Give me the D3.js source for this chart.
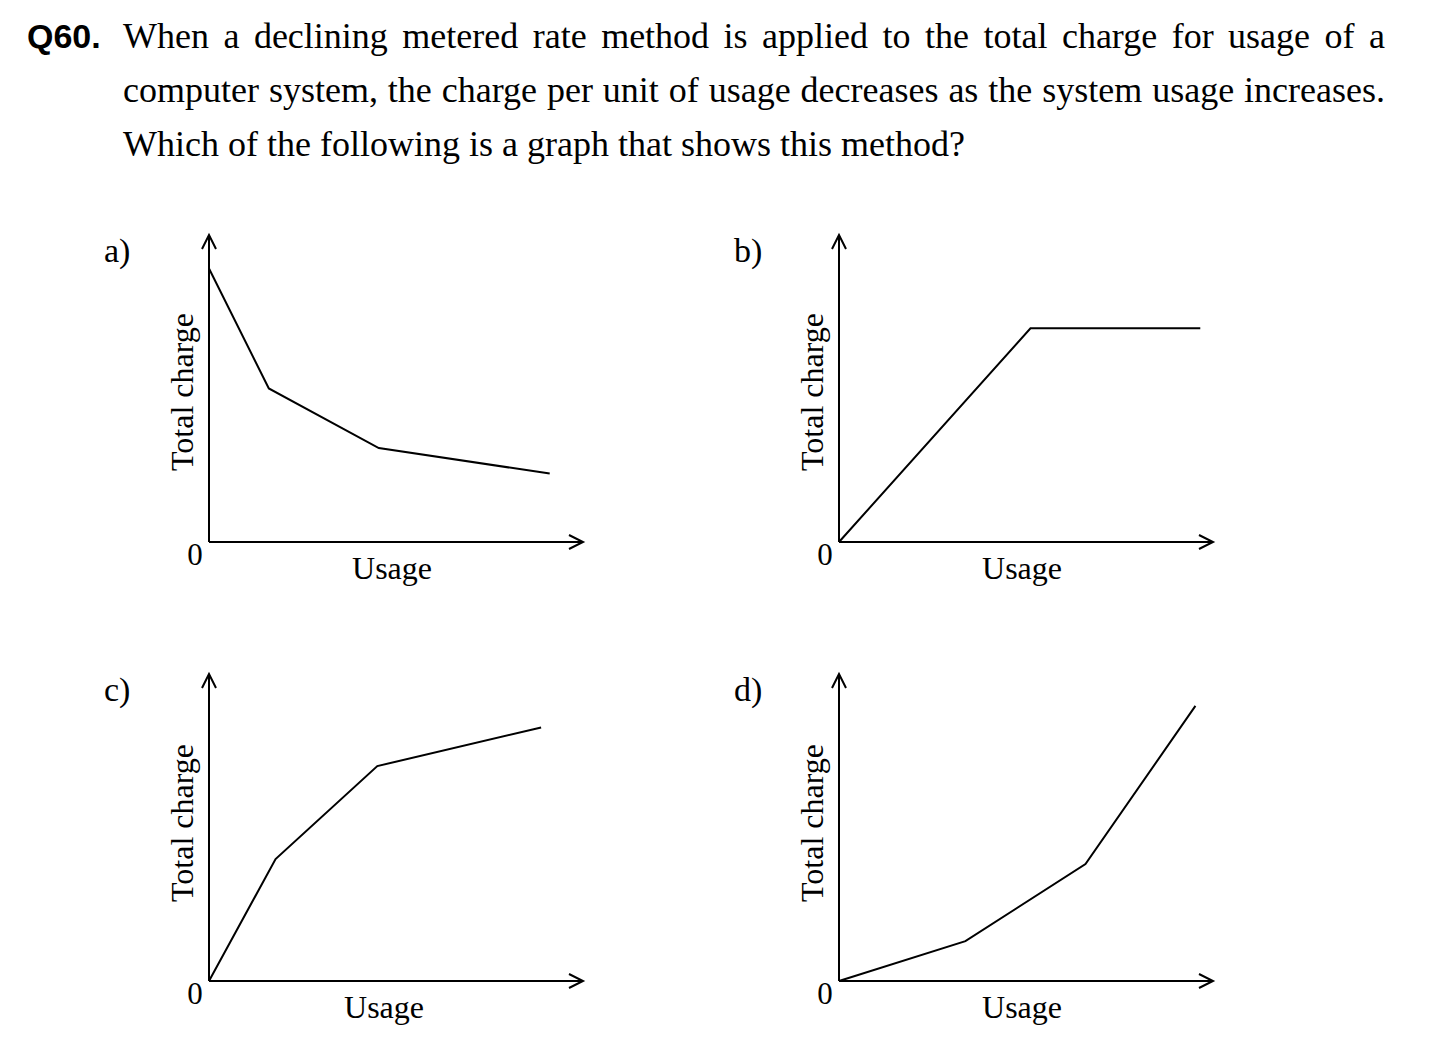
<!DOCTYPE html>
<html>
<head>
<meta charset="utf-8">
<script src="https://cdn.jsdelivr.net/npm/d3@7"></script>
<style>
  html, body { margin: 0; padding: 0; background: #fff; }
  svg { display: block; }
</style>
</head>
<body>
<svg id="chart" width="1450" height="1060"></svg>
<script>
// ---------- data ----------
const questionNumber = "Q60.";
const questionLines = [
  "When a declining metered rate method is applied to the total charge for usage of a",
  "computer system, the charge per unit of usage decreases as the system usage increases.",
  "Which of the following is a graph that shows this method?"
];
const panelLabels = ["a)", "b)", "c)", "d)"];
const xAxisLabel = "Usage";
const yAxisLabel = "Total charge";
const originLabel = "0";

// usage (x) and total charge (y), in percent of axis length
const usageA  = [0, 16.0, 45.4, 91.1];
const chargeA = [89.1, 50.0, 30.6, 22.3];
const usageB  = [0, 51.2, 96.6];
const chargeB = [0, 69.6, 69.6];
const usageC  = [0, 17.8, 45.0, 88.8];
const chargeC = [0, 39.7, 70.0, 82.6];
const usageD  = [0, 33.8, 65.9, 95.3];
const chargeD = [0, 13.0, 38.1, 89.6];

const seriesUsage  = [usageA, usageB, usageC, usageD];
const seriesCharge = [chargeA, chargeB, chargeC, chargeD];

// ---------- layout ----------
const svg = d3.select("#chart");
const serif = "'Liberation Serif', 'Times New Roman', serif";
const sans = "'Liberation Sans', Arial, sans-serif";

const panelOrigins = [[209, 542], [839, 542], [209, 981], [839, 981]];
const xLen = 374, yLen = 307;
const usageLabelDx = [183, 183, 175, 183];
const chargeLabelDy = [-150, -150, -158, -158];

// ---------- question text ----------
svg.append("text")
  .attr("x", 27).attr("y", 48)
  .attr("font-family", sans).attr("font-weight", "bold").attr("font-size", 34)
  .text(questionNumber);

const textLeft = 123, textRight = 1385, fontSize = 36;
const baselines = [48, 102, 156];
questionLines.forEach((line, i) => {
  const words = line.split(" ");
  const justify = i < questionLines.length - 1;
  const g = svg.append("g");
  const nodes = words.map(w => g.append("text")
    .attr("font-family", serif).attr("font-size", fontSize)
    .attr("y", baselines[i]).text(w));
  const widths = nodes.map(n => n.node().getComputedTextLength());
  const total = d3.sum(widths);
  const gap = justify ? (textRight - textLeft - total) / (words.length - 1) : fontSize * 0.25;
  let x = textLeft;
  nodes.forEach((n, k) => { n.attr("x", x); x += widths[k] + gap; });
});

// ---------- panels ----------
panelLabels.forEach((lab, i) => {
  const [ox, oy] = panelOrigins[i];
  const x = d3.scaleLinear().domain([0, 100]).range([ox, ox + xLen]);
  const y = d3.scaleLinear().domain([0, 100]).range([oy, oy - yLen]);
  const g = svg.append("g");

  // axes
  g.append("line").attr("x1", x(0)).attr("y1", y(0)).attr("x2", x(100)).attr("y2", y(0))
    .attr("stroke", "#000").attr("stroke-width", 2);
  g.append("line").attr("x1", x(0)).attr("y1", y(0)).attr("x2", x(0)).attr("y2", y(100))
    .attr("stroke", "#000").attr("stroke-width", 2);
  // arrowheads
  g.append("path")
    .attr("d", `M${x(100) - 14},${y(0) - 7} L${x(100)},${y(0)} L${x(100) - 14},${y(0) + 7}`)
    .attr("fill", "none").attr("stroke", "#000").attr("stroke-width", 2);
  g.append("path")
    .attr("d", `M${x(0) - 7},${y(100) + 14} L${x(0)},${y(100)} L${x(0) + 7},${y(100) + 14}`)
    .attr("fill", "none").attr("stroke", "#000").attr("stroke-width", 2);

  // line
  const pts = seriesUsage[i].map((u, k) => [u, seriesCharge[i][k]]);
  g.append("path")
    .attr("d", d3.line().x(d => x(d[0])).y(d => y(d[1]))(pts))
    .attr("fill", "none").attr("stroke", "#000").attr("stroke-width", 2)
    .attr("stroke-linejoin", "miter");

  // labels
  g.append("text").attr("x", ox - 105).attr("y", oy - 280)
    .attr("font-family", serif).attr("font-size", 34).text(lab);
  g.append("text").attr("x", ox - 14).attr("y", oy + 23).attr("text-anchor", "middle")
    .attr("font-family", serif).attr("font-size", 31).text(originLabel);
  g.append("text").attr("x", ox + usageLabelDx[i]).attr("y", oy + 37).attr("text-anchor", "middle")
    .attr("font-family", serif).attr("font-size", 32).text(xAxisLabel);
  g.append("text")
    .attr("transform", `translate(${ox - 16},${oy + chargeLabelDy[i]}) rotate(-90)`)
    .attr("text-anchor", "middle")
    .attr("font-family", serif).attr("font-size", 32).text(yAxisLabel);
});
</script>
</body>
</html>
